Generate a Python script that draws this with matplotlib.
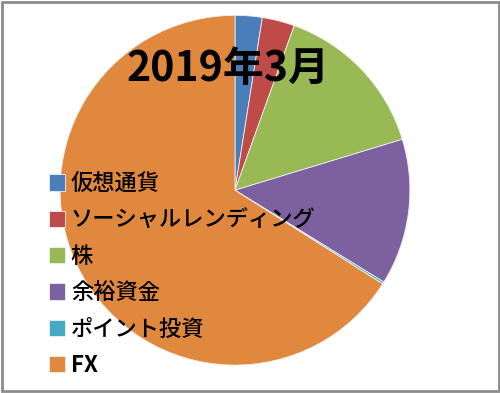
import matplotlib.pyplot as plt
from matplotlib.patches import Rectangle

plt.rcParams['font.family'] = ['Noto Sans CJK JP', 'DejaVu Sans']

labels = ["仮想通貨", "ソーシャルレンディング", "株", "余裕資金", "ポイント投資", "FX"]
values = [2.5, 3.0, 14.8, 13.5, 0.2, 66.0]
colors = ["#4A7EBB", "#BE4B48", "#98B954", "#7D60A0", "#46AAC5", "#E0883E"]
title = "2019年3月"

fig = plt.figure(figsize=(5.0, 3.93), dpi=100)
ax = fig.add_axes([0.12, 0.071, 0.70, 0.89])
wedges, _ = ax.pie(
    values, colors=colors, startangle=90, counterclock=False, radius=1,
    wedgeprops=dict(edgecolor="#f0f0f0", linewidth=0.6)
)
ax.set_xlim(-1, 1)
ax.set_ylim(-1, 1)
ax.set_aspect("equal")

fig.text(0.456, 0.825, title, fontsize=29.5, fontweight="bold",
         ha="center", va="center", color="black")

leg = fig.legend(
    wedges, labels, loc="upper left", bbox_to_anchor=(0.075, 0.59),
    frameon=False, fontsize=16, handlelength=0.75, handleheight=0.75,
    handletextpad=0.25, labelspacing=0.6, borderpad=0
)
for t in leg.get_texts():
    t.set_fontweight("medium")
leg.get_texts()[-1].set_fontweight("bold")

fig.patches.append(Rectangle((0.003, 0.004), 0.994, 0.992, transform=fig.transFigure,
                             fill=False, edgecolor="#8c8c8c", linewidth=2))

fig.savefig("out.png", dpi=100)
